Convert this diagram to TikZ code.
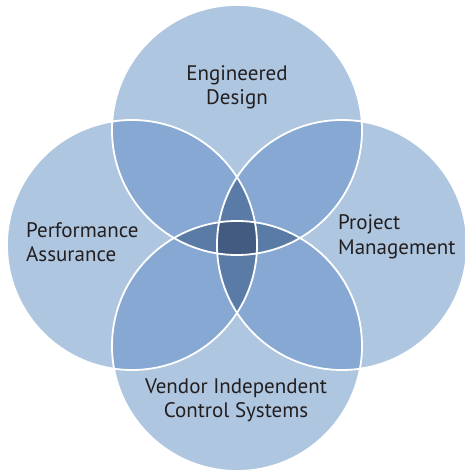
\documentclass[tikz,border=0pt]{standalone}
\usepackage{fontspec}
\setmainfont{PT Sans}

\definecolor{ringlight}{HTML}{AEC6E0}
\definecolor{ringmid}{HTML}{86A8D2}
\definecolor{ringdark}{HTML}{5B7BA7}
\definecolor{ringcore}{HTML}{435B80}
\definecolor{labeltext}{HTML}{231F20}

\newcommand{\ring}[1]{(#1) circle[radius=125]}

\begin{document}
\begin{tikzpicture}[x=1pt, y=1pt,
    area/.style={text=labeltext, font=\fontsize{21}{24.5}\selectfont, inner sep=0pt}]
    \useasboundingbox (0,0) rectangle (464,473);
    \coordinate (design) at (237,343);
    \coordinate (perf) at (132,228);
    \coordinate (proj) at (342,228);
    \coordinate (vendor) at (237,127);

    % one circle each
    \fill[ringlight] \ring{design} \ring{perf} \ring{proj} \ring{vendor};

    % two circles
    \begin{scope}
        \clip \ring{design};
        \fill[ringmid] \ring{perf} \ring{proj} \ring{vendor};
    \end{scope}
    \begin{scope}
        \clip \ring{vendor};
        \fill[ringmid] \ring{perf} \ring{proj};
    \end{scope}
    \begin{scope}
        \clip \ring{perf};
        \fill[ringmid] \ring{proj};
    \end{scope}

    % three circles
    \begin{scope}
        \clip \ring{design};
        \clip \ring{perf};
        \fill[ringdark] \ring{proj} \ring{vendor};
    \end{scope}
    \begin{scope}
        \clip \ring{vendor};
        \clip \ring{proj};
        \fill[ringdark] \ring{perf} \ring{design};
    \end{scope}

    % all four
    \begin{scope}
        \clip \ring{design};
        \clip \ring{perf};
        \clip \ring{proj};
        \fill[ringcore] \ring{vendor};
    \end{scope}

    \draw[white, line width=1.8pt] \ring{design} \ring{perf} \ring{proj} \ring{vendor};

    \node[area, align=center] (designtext) at (237,385.5) {Engineered\\Design};
    \node[area, align=left, anchor=west] (perftext) at (26,231) {Performance\\Assurance};
    \node[area, align=left, anchor=west] (projtext) at (338,236) {Project\\Management};
    \node[area, align=center] (vendortext) at (236,72.5) {Vendor Independent\\Control Systems};
\end{tikzpicture}
\end{document}
